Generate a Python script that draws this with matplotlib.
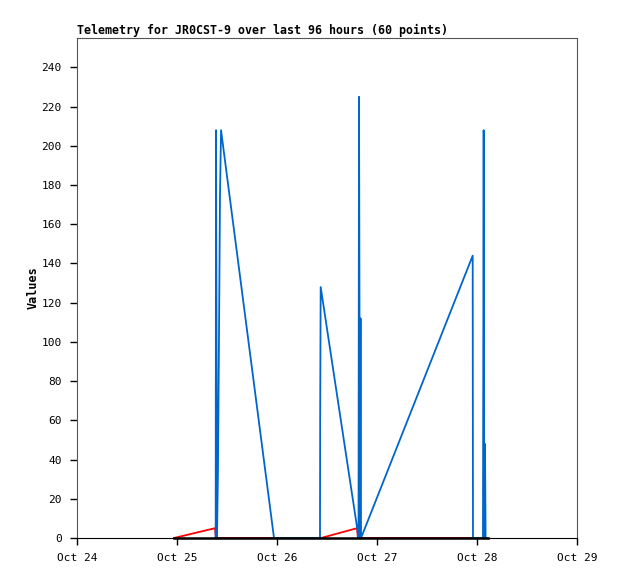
# Telemetry plot for JR0CST-9, last 96 hours
import matplotlib
matplotlib.use('Agg')
import matplotlib.pyplot as plt
import matplotlib.dates as mdates
import numpy as np

# ----------------------------------------------------------------------
# Data

blue_times = ['2023-10-25 09:17', '2023-10-25 09:22', '2023-10-25 09:36',
              '2023-10-25 09:50', '2023-10-25 10:05', '2023-10-25 10:19',
              '2023-10-25 10:34', '2023-10-25 23:17', '2023-10-26 10:19',
              '2023-10-26 10:22', '2023-10-26 10:29', '2023-10-26 19:19',
              '2023-10-26 19:34', '2023-10-26 19:41', '2023-10-26 19:55',
              '2023-10-26 20:03', '2023-10-26 20:10', '2023-10-27 22:58',
              '2023-10-27 23:02', '2023-10-28 01:26', '2023-10-28 01:36',
              '2023-10-28 01:44', '2023-10-28 01:55', '2023-10-28 02:04']
blue_values = [0, 208, 0, 35, 104, 174, 208, 0, 0,
               64, 128, 4, 0, 225, 0,
               112, 0, 144, 0,
               0, 208, 0, 48, 0]

red_times = ['2023-10-24 23:17', '2023-10-25 09:07', '2023-10-25 09:20',
             '2023-10-26 10:34', '2023-10-26 19:12', '2023-10-26 19:25',
             '2023-10-28 02:30']
red_values = [0, 5, 0, 0, 5, 0, 0]

black_times = ['2023-10-24 23:17', '2023-10-28 02:38']
black_values = [0, 0]

# ----------------------------------------------------------------------
# Plot

plt.rcParams['font.family'] = 'DejaVu Sans Mono'
plt.rcParams['font.size'] = 8

fig = plt.figure(figsize=(6.18, 5.79), dpi=100)
ax = fig.add_axes([77/618, 41/579, 500/618, 500/579])

to_dt = lambda ts: np.array(ts, dtype='datetime64[m]')

ax.plot(to_dt(red_times), red_values, color='#ff0000', lw=1.3, clip_on=False, zorder=2)
ax.plot(to_dt(blue_times), blue_values, color='#0066cc', lw=1.3, clip_on=False, zorder=3)
ax.plot(to_dt(black_times), black_values, color='black', lw=1.8, clip_on=False, zorder=4)

ax.set_xlim(np.datetime64('2023-10-24T00:00'), np.datetime64('2023-10-29T00:00'))
ax.set_ylim(0, 255)
ax.set_yticks(range(0, 241, 20))
ax.xaxis.set_major_locator(mdates.DayLocator())
ax.xaxis.set_major_formatter(mdates.DateFormatter('%b %d'))
ax.tick_params(direction='out', length=5, width=1, color='black', labelsize=8)
ax.tick_params(axis='y', pad=6)
ax.tick_params(axis='x', pad=6)

for side in ['top', 'right', 'left']:
    ax.spines[side].set_color('#555555')
ax.spines['bottom'].set_color('black')

ax.set_ylabel('Values', fontweight='bold', fontsize=8.5, labelpad=1)
ax.set_title('Telemetry for JR0CST-9 over last 96 hours (60 points)',
             loc='left', fontweight='bold', fontsize=8.4, pad=3)

plt.savefig('out.png', dpi=100)
